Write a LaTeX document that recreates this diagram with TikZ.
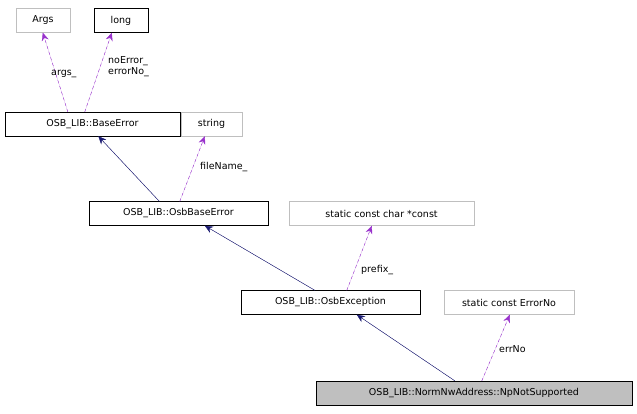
\documentclass[tikz,border=0pt]{standalone}
\usepackage{fontspec}
\setmainfont{DejaVu Sans}
\usetikzlibrary{arrows.meta}
\definecolor{edgenavy}{RGB}{25,25,112}
\definecolor{edgepurple}{RGB}{153,50,204}
\definecolor{boxgray}{RGB}{191,191,191}
\begin{document}
\begin{tikzpicture}[x=1pt,y=-1pt,font=\fontsize{9.5}{11}\selectfont,
  cls/.style={draw=black,inner sep=0pt,minimum height=24},
  ext/.style={draw=boxgray,inner sep=0pt,minimum height=24},
  inherit/.style={draw=edgenavy,-{Stealth[length=8,width=7]},fill=edgenavy},
  uses/.style={draw=edgepurple,dashed,-{Stealth[length=8,width=7]},fill=edgepurple},
  lbl/.style={font=\fontsize{9.5}{11}\selectfont,align=left,anchor=west,inner sep=0pt}]
\useasboundingbox (0,0) rectangle (637,413);
\node[ext,minimum width=54] (args) at (43,20.5) {Args};
\node[cls,minimum width=54] (long) at (121,20.5) {long};
\node[cls,minimum width=175] (base) at (92.5,124) {OSB\_LIB::BaseError};
\node[ext,minimum width=61] (string) at (211.5,124) {string};
\node[cls,minimum width=179] (osbbase) at (178.5,213.5) {OSB\_LIB::OsbBaseError};
\node[ext,minimum width=185] (prefix) at (381.5,213.5) {static const char *const};
\node[cls,minimum width=179] (osbexc) at (330.5,302.5) {OSB\_LIB::OsbException};
\node[ext,minimum width=130] (errno) at (509,302.5) {static const ErrorNo};
\node[cls,fill=boxgray,minimum width=316] (nps) at (474,393) {OSB\_LIB::NormNwAddress::NpNotSupported};
% inheritance
\draw[inherit] ([xshift=70.5]osbbase.north west) -- ([xshift=93.5]base.south west);
\draw[inherit] ([xshift=74]osbexc.north west) -- ([xshift=116]osbbase.south west);
\draw[inherit] ([xshift=139]nps.north west) -- ([xshift=116]osbexc.south west);
% members
\draw[uses] ([xshift=63]base.north west) -- ([xshift=27]args.south west);
\draw[uses] ([xshift=80]base.north west) -- ([xshift=18]long.south west);
\draw[uses] ([xshift=91]osbbase.north west) -- ([xshift=24]string.south west);
\draw[uses] ([xshift=106]osbexc.north west) -- ([xshift=83]prefix.south west);
\draw[uses] ([xshift=166]nps.north west) -- ([xshift=66]errno.south west);
\node[lbl] at (51,74) {args\_};
\node[lbl] at (108,67) {noError\_\\errorNo\_};
\node[lbl] at (200,167) {fileName\_};
\node[lbl] at (361,270) {prefix\_};
\node[lbl] at (499,349) {errNo};
\end{tikzpicture}
\end{document}
